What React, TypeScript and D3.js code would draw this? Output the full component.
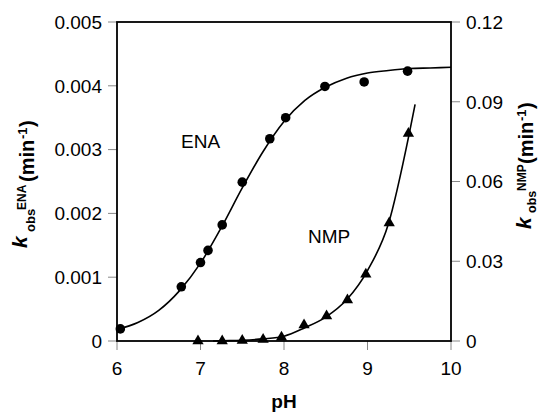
import React from "react";
import * as d3 from "d3";

// measured points (pH, kobs)
const enaPH = [6.04, 6.77, 7.0, 7.09, 7.26, 7.5, 7.83, 8.02, 8.49, 8.96, 9.48];
const enaK = [0.00019, 0.00085, 0.00123, 0.00142, 0.00182, 0.00249, 0.00317, 0.0035, 0.00399, 0.00406, 0.00423];
const nmpPH = [6.97, 7.26, 7.5, 7.75, 7.97, 8.24, 8.51, 8.76, 8.98, 9.26, 9.49];
const nmpK = [0, 0, 0.0002, 0.0006, 0.0014, 0.006, 0.0094, 0.0154, 0.0251, 0.0444, 0.0781];

// fitted curves
const enaFitPH = [6, 6.25, 6.5, 6.75, 7, 7.25, 7.5, 7.75, 8, 8.25, 8.5, 8.75, 9, 9.25, 9.5, 9.75, 10];
const enaFitK = [0.00018, 0.00029, 0.00048, 0.00079, 0.00122, 0.00178, 0.0024, 0.00297, 0.00344, 0.00377, 0.00398, 0.00412, 0.0042, 0.00424, 0.00427, 0.00428, 0.00429];
const nmpFitPH = [7.15, 7.25, 7.5, 7.75, 8, 8.25, 8.5, 8.75, 9, 9.25, 9.5, 9.57];
const nmpFitK = [0, 0.0001, 0.0003, 0.0008, 0.0018, 0.005, 0.009, 0.0155, 0.0265, 0.044, 0.078, 0.089];

const xTicks = [6, 7, 8, 9, 10];
const leftTicks = [0, 0.001, 0.002, 0.003, 0.004, 0.005];
const rightTicks = [0, 0.03, 0.06, 0.09, 0.12];

const font = "'Liberation Sans', Arial, sans-serif";

export default function App() {
  const W = 538, H = 414;
  const x = d3.scaleLinear().domain([6, 10]).range([117, 451]);
  const yL = d3.scaleLinear().domain([0, 0.005]).range([341, 22]);
  const yR = d3.scaleLinear().domain([0, 0.12]).range([341, 22]);

  const enaLine = d3.line<number>()
    .x((d, i) => x(enaFitPH[i]))
    .y((d) => yL(d))
    .curve(d3.curveMonotoneX);
  const nmpLine = d3.line<number>()
    .x((d, i) => x(nmpFitPH[i]))
    .y((d) => yR(d))
    .curve(d3.curveMonotoneX);
  const tri = d3.symbol().type(d3.symbolTriangle).size(55)();

  const fmtL = (d: number) => (d === 0 ? "0" : d3.format(".3f")(d));
  const fmtR = (d: number) => (d === 0 ? "0" : d3.format(".2f")(d));

  return (
    <svg width={W} height={H} style={{ position: "absolute", left: 0, top: 0, background: "#fff" }}
      fontFamily={font}>
      {/* ticks */}
      {leftTicks.map((t) => (
        <g key={"l" + t}>
          <line x1={108} x2={117} y1={yL(t)} y2={yL(t)} stroke="#888" strokeWidth={1} />
          <text x={102} y={yL(t)} dy="0.36em" textAnchor="end" fontSize={19}>{fmtL(t)}</text>
        </g>
      ))}
      {rightTicks.map((t) => (
        <g key={"r" + t}>
          <line x1={451} x2={460} y1={yR(t)} y2={yR(t)} stroke="#888" strokeWidth={1} />
          <text x={466} y={yR(t)} dy="0.36em" textAnchor="start" fontSize={19}>{fmtR(t)}</text>
        </g>
      ))}
      {xTicks.map((t) => (
        <g key={"x" + t}>
          <line x1={x(t)} x2={x(t)} y1={341} y2={350} stroke="#888" strokeWidth={1} />
          <text x={x(t)} y={375} textAnchor="middle" fontSize={19}>{t}</text>
        </g>
      ))}

      {/* frame */}
      <rect x={117} y={22} width={334} height={319} fill="none" stroke="#000" strokeWidth={1.8} />

      {/* curves */}
      <path d={enaLine(enaFitK) || ""} fill="none" stroke="#000" strokeWidth={1.6} />
      <path d={nmpLine(nmpFitK) || ""} fill="none" stroke="#000" strokeWidth={1.6} />

      {/* points */}
      {enaPH.map((p, i) => (
        <circle key={"c" + i} cx={x(p)} cy={yL(enaK[i])} r={4.8} fill="#000" />
      ))}
      {nmpPH.map((p, i) => (
        <path key={"t" + i} d={tri || ""} transform={`translate(${x(p)},${yR(nmpK[i])})`} fill="#000" />
      ))}

      {/* series labels */}
      <text x={181} y={148} fontSize={19}>ENA</text>
      <text x={308} y={243} fontSize={19}>NMP</text>

      {/* axis titles */}
      <text x={284} y={408} textAnchor="middle" fontSize={19} fontWeight="bold">pH</text>

      <g transform="rotate(-90)" fontWeight="bold">
        <text x={-248} y={27} fontSize={21} fontStyle="italic">k</text>
        <text x={-232} y={34.5} fontSize={13}>obs</text>
        <text x={-210} y={26} fontSize={12}>ENA</text>
        <text x={-182} y={34} fontSize={20}>(min</text>
        <text x={-139} y={27} fontSize={13}>-1</text>
        <text x={-127} y={34} fontSize={20}>)</text>

        <text x={-229} y={531} fontSize={21} fontStyle="italic">k</text>
        <text x={-213} y={535.5} fontSize={12.5}>obs</text>
        <text x={-191} y={526} fontSize={12}>NMP</text>
        <text x={-164} y={533} fontSize={20}>(min</text>
        <text x={-121} y={526} fontSize={13}>-1</text>
        <text x={-109} y={533} fontSize={20}>)</text>
      </g>
    </svg>
  );
}
